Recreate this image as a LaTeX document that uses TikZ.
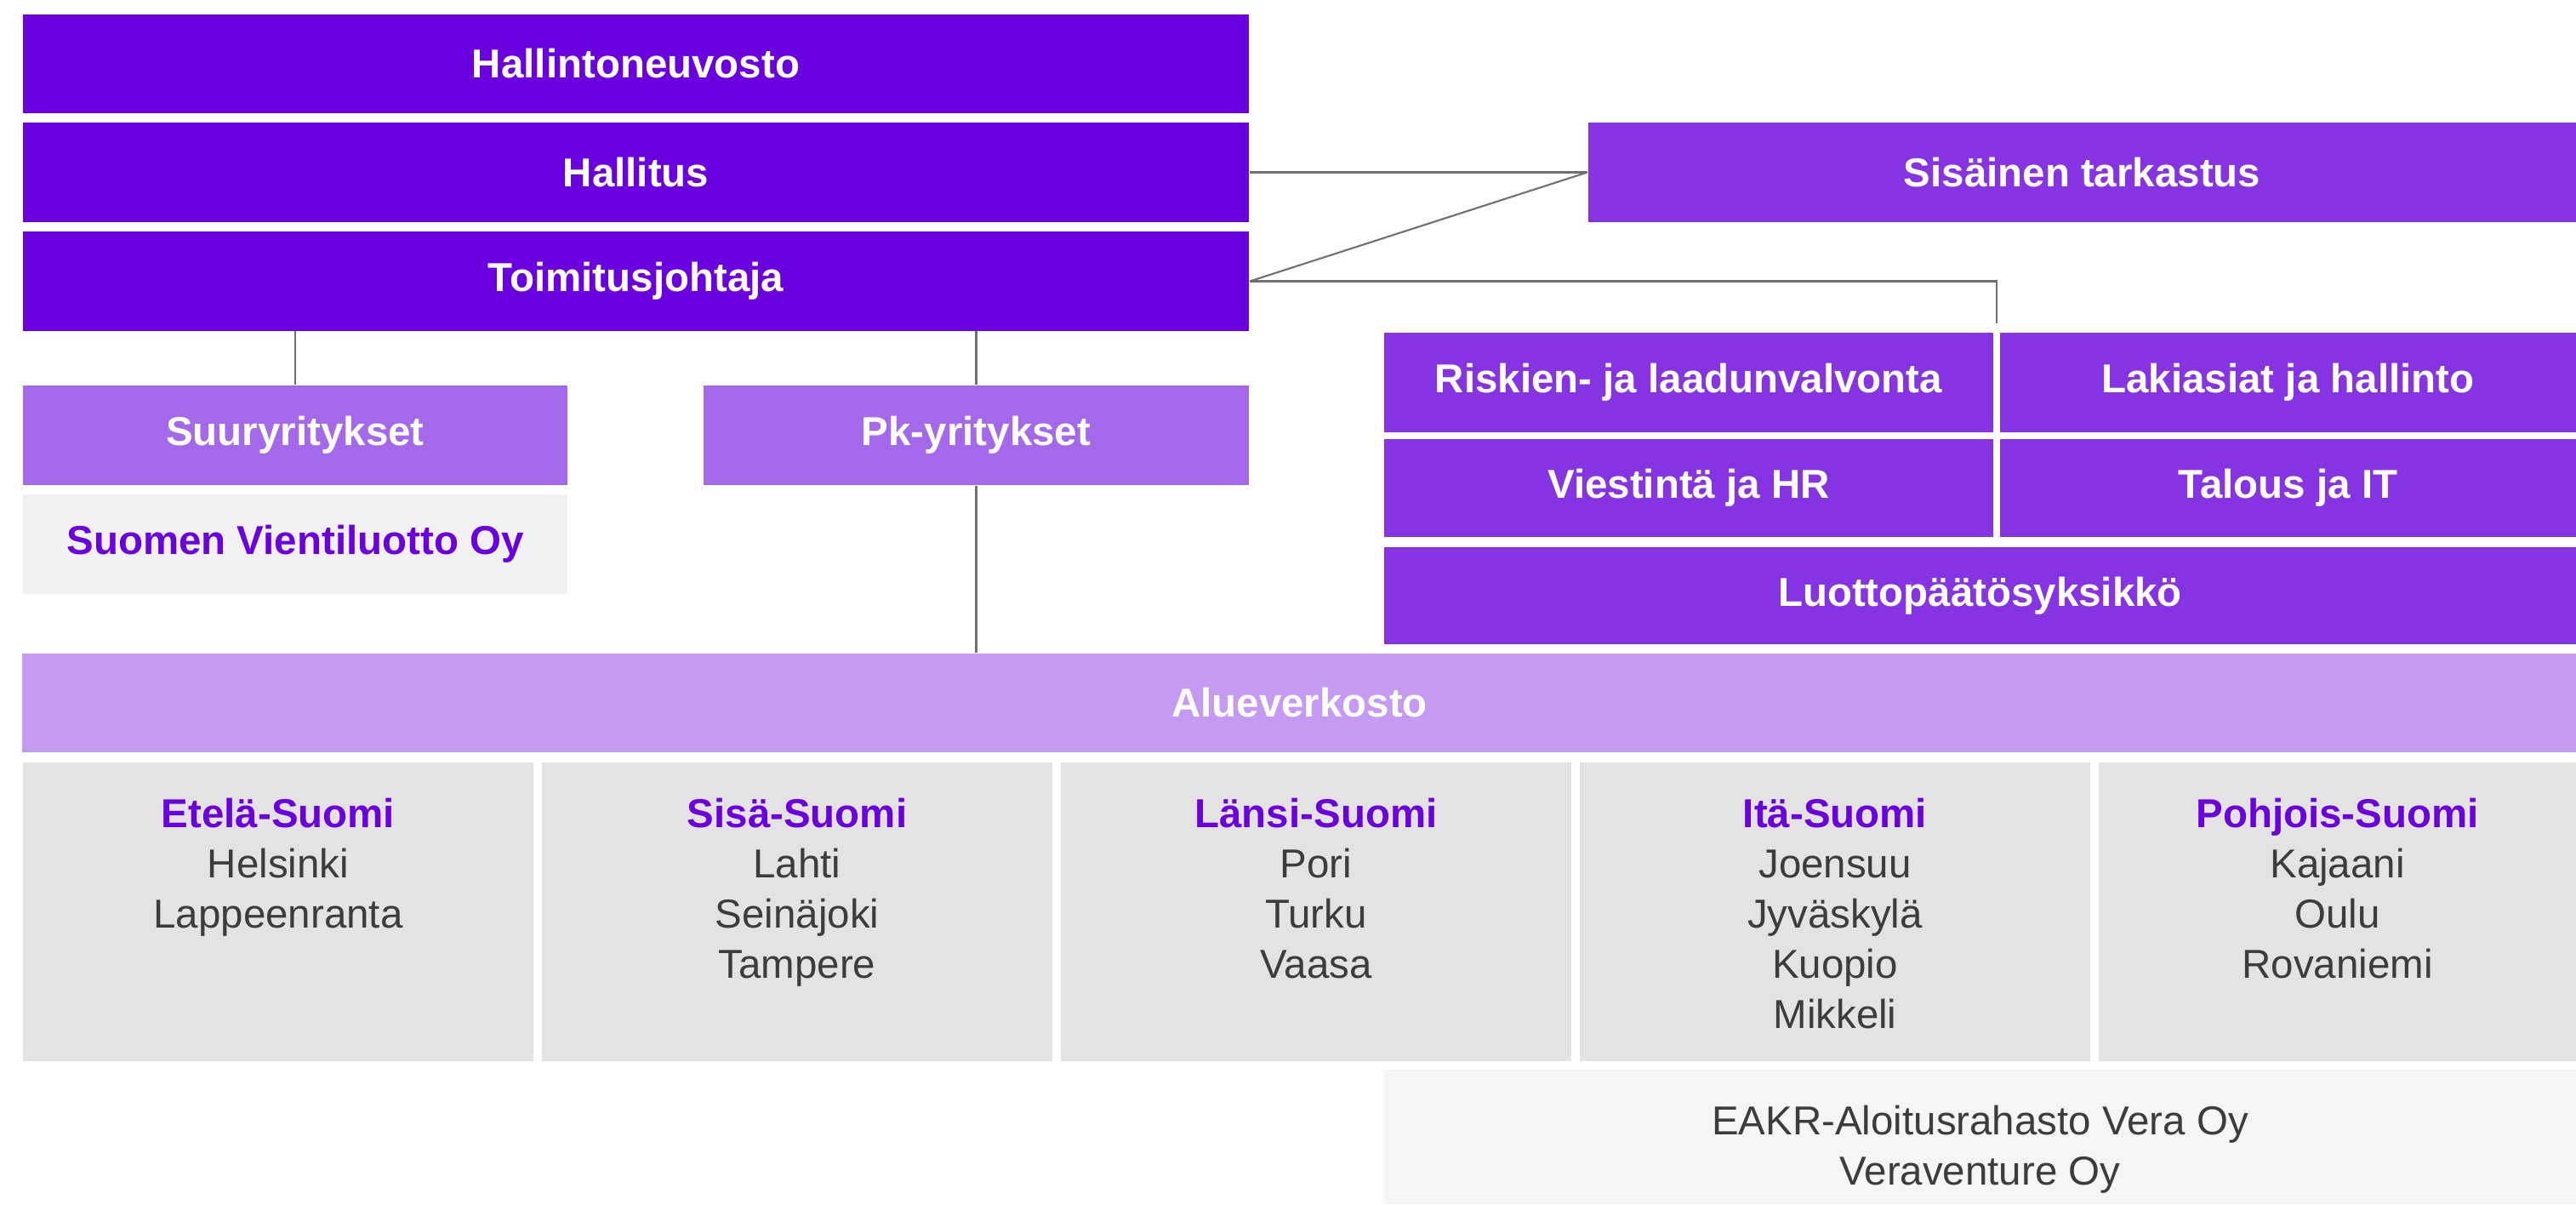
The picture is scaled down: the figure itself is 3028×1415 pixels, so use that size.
\documentclass[tikz,border=0pt]{standalone}
\usepackage{fontspec}
\setmainfont{Liberation Sans}
\definecolor{deeppurple}{HTML}{6A00E0}
\definecolor{midpurple}{HTML}{8634E3}
\definecolor{softpurple}{HTML}{A468EA}
\definecolor{palepurple}{HTML}{C49AF2}
\definecolor{regiongray}{HTML}{E3E3E3}
\definecolor{notegray}{HTML}{F1F1F1}
\definecolor{fundgray}{HTML}{F5F5F5}
\definecolor{citytext}{HTML}{3C3C3C}
\definecolor{linegray}{HTML}{707070}
\tikzset{
    orgbox/.style={inner sep=0pt, text=white, font=\fontsize{13.5}{16.8}\selectfont\bfseries},
    topbox/.style={orgbox, fill=deeppurple, minimum width=14.41cm, minimum height=1.16cm},
    staffbox/.style={orgbox, fill=midpurple, minimum height=1.16cm},
    unitbox/.style={orgbox, fill=softpurple, minimum width=6.4cm, minimum height=1.17cm},
    regionbox/.style={inner sep=0pt, fill=regiongray, minimum height=3.51cm},
    regiontext/.style={inner sep=0pt, anchor=north, align=center, text=citytext, font=\fontsize{13.5}{16.8}\selectfont},
    conn/.style={draw=linegray, line width=0.6pt}
}
\begin{document}
\begin{tikzpicture}[x=0.01cm, y=-0.01cm]
        \useasboundingbox (0,0) rectangle (3028,1415);
        \node[topbox] (hneuvosto) at (747.5,75) {Hallintoneuvosto};
        \node[topbox] (hallitus) at (747.5,202.5) {Hallitus};
        \node[topbox] (toimjoht) at (747.5,330.5) {Toimitusjohtaja};
        \node[staffbox, minimum width=11.61cm] (sisatark) at (2447.5,202.5) {Sisäinen tarkastus};
        \node[staffbox, minimum width=7.16cm, minimum height=1.17cm] (riskit) at (1985,449.5) {Riskien- ja laadunvalvonta};
        \node[staffbox, minimum width=6.77cm, minimum height=1.17cm] (lakiasiat) at (2689.5,449.5) {Lakiasiat ja hallinto};
        \node[staffbox, minimum width=7.16cm, minimum height=1.15cm] (viestinta) at (1985,573.5) {Viestintä ja HR};
        \node[staffbox, minimum width=6.77cm, minimum height=1.15cm] (talous) at (2689.5,573.5) {Talous ja IT};
        \node[staffbox, minimum width=14.01cm, minimum height=1.14cm] (luottop) at (2327.5,700) {Luottopäätösyksikkö};
        \node[unitbox] (suuryr) at (347,511.5) {Suuryritykset};
        \node[unitbox, fill=notegray, text=deeppurple] (vientiluotto) at (347,639.5) {Suomen Vientiluotto Oy};
        \node[unitbox] (pkyr) at (1147.5,511.5) {Pk-yritykset};
        \node[orgbox, fill=palepurple, minimum width=30.01cm, minimum height=1.16cm] (alue) at (1527.5,826) {Alueverkosto};
        \node[regionbox, minimum width=6cm] (etela) at (327,1071.5) {};
        \node[regionbox, minimum width=6cm] (sisa) at (937,1071.5) {};
        \node[regionbox, minimum width=6cm] (lansi) at (1547,1071.5) {};
        \node[regionbox, minimum width=6cm] (ita) at (2157,1071.5) {};
        \node[regionbox, minimum width=5.61cm] (pohjois) at (2747.5,1071.5) {};
        \node[regiontext] (etelatext) at (327,937) {\textcolor{deeppurple}{\bfseries Etelä-Suomi}\\Helsinki\\Lappeenranta};
        \node[regiontext] (sisatext) at (937,937) {\textcolor{deeppurple}{\bfseries Sisä-Suomi}\\Lahti\\Seinäjoki\\Tampere};
        \node[regiontext] (lansitext) at (1547,937) {\textcolor{deeppurple}{\bfseries Länsi-Suomi}\\Pori\\Turku\\Vaasa};
        \node[regiontext] (itatext) at (2157,937) {\textcolor{deeppurple}{\bfseries Itä-Suomi}\\Joensuu\\Jyväskylä\\Kuopio\\Mikkeli};
        \node[regiontext] (pohjoistext) at (2747.5,937) {\textcolor{deeppurple}{\bfseries Pohjois-Suomi}\\Kajaani\\Oulu\\Rovaniemi};
        \node[regionbox, fill=fundgray, minimum width=14.01cm, minimum height=1.58cm] (rahasto) at (2327.5,1336) {};
        \node[regiontext] (rahastotext) at (2327.5,1298) {EAKR-Aloitusrahasto Vera Oy\\Veraventure Oy};
        \coordinate (staffsplit) at (2347,380);
        \draw[conn] (hallitus.east) -- (sisatark.west);
        \draw[conn] (toimjoht.east) -- (sisatark.west);
        \draw[conn] (toimjoht.east) -| (staffsplit);
        \draw[conn] (suuryr.north) -- (suuryr.north |- toimjoht.south);
        \draw[conn] (pkyr.north) -- (pkyr.north |- toimjoht.south);
        \draw[conn] (pkyr.south) -- (pkyr.south |- alue.north);
    \end{tikzpicture}
\end{document}
